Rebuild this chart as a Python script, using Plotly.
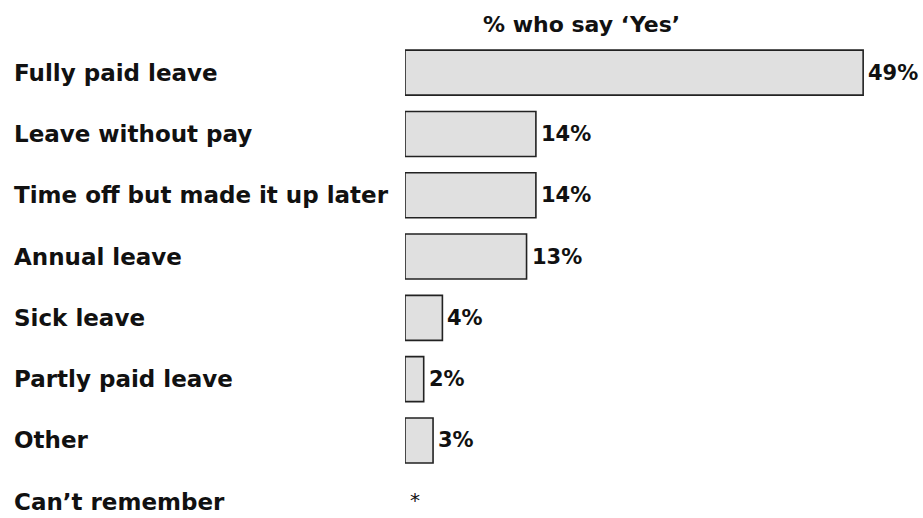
import plotly.graph_objects as go

categories = ["Fully paid leave", "Leave without pay", "Time off but made it up later",
              "Annual leave", "Sick leave", "Partly paid leave", "Other", "Can\u2019t remember"]
values = [49, 14, 14, 13, 4, 2, 3, 0]
value_labels = ["49%", "14%", "14%", "13%", "4%", "2%", "3%", "*"]
title_text = "% who say \u2018Yes\u2019"

FONT = "DejaVu Sans"
W, H = 923, 518
ML, MR, MT, MB = 405, 20, 42, 0
PW = W - ML - MR
PH = H - MT - MB
ROW = 61.3

line_widths = [0 if lab == "*" else 1.6 for lab in value_labels]

fig = go.Figure(go.Bar(
    x=values, y=list(range(len(categories))), orientation="h",
    marker=dict(color="#e0e0e0", line=dict(color="#222222", width=line_widths)),
    width=45 / ROW, hoverinfo="skip",
))

annotations = []
for i, (cat, v, lab) in enumerate(zip(categories, values, value_labels)):
    annotations.append(dict(
        x=(12 - ML) / PW, xref="paper", y=i, yref="y", text=cat,
        xanchor="left", yanchor="middle", showarrow=False,
        font=dict(family=FONT, size=23, color="#111111", weight="bold"),
    ))
    if lab == "*":
        annotations.append(dict(
            x=v, xref="x", y=i, yref="y", text=lab, xanchor="center",
            yanchor="middle", xshift=10, yshift=2, showarrow=False,
            font=dict(family=FONT, size=20, color="#111111"),
        ))
    else:
        annotations.append(dict(
            x=v, xref="x", y=i, yref="y", text=lab, xanchor="left",
            yanchor="middle", xshift=3, showarrow=False,
            font=dict(family=FONT, size=21, color="#111111", weight="bold"),
        ))

annotations.append(dict(
    x=(581 - ML) / PW, xref="paper", y=1 + (MT - 25) / PH, yref="paper",
    text=title_text, xanchor="center", yanchor="middle", showarrow=False,
    font=dict(family=FONT, size=22, color="#111111", weight="bold"),
))

fig.update_layout(
    width=W, height=H,
    margin=dict(l=ML, r=MR, t=MT, b=MB, pad=0),
    paper_bgcolor="white", plot_bgcolor="white",
    showlegend=False,
    xaxis=dict(range=[0, PW / 9.35], showgrid=False, zeroline=False,
               showticklabels=False, showline=False, fixedrange=True),
    yaxis=dict(range=[-0.5 + PH / ROW, -0.5], showgrid=False, zeroline=False,
               showticklabels=False, showline=False, fixedrange=True),
    annotations=annotations,
)

fig.write_html("out.html", config={"displayModeBar": False},
               post_script="document.body.style.margin='0px';document.body.style.overflow='hidden';")
